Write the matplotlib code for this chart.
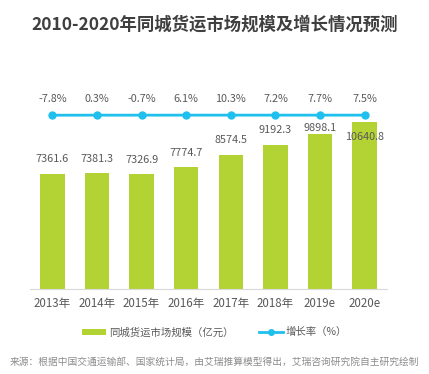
import matplotlib
matplotlib.use('Agg')
import matplotlib.pyplot as plt

plt.rcParams['font.family'] = ['Noto Sans CJK SC', 'DejaVu Sans']

years = ['2013年', '2014年', '2015年', '2016年', '2017年', '2018年', '2019e', '2020e']
market = [7361.6, 7381.3, 7326.9, 7774.7, 8574.5, 9192.3, 9898.1, 10640.8]
growth = [-7.8, 0.3, -0.7, 6.1, 10.3, 7.2, 7.7, 7.5]

BAR_COLOR = '#b3d335'
LINE_COLOR = '#1fc0ee'
TEXT_COLOR = '#595959'

fig = plt.figure(figsize=(4.29, 3.74), dpi=100)
ax = fig.add_axes([0.07, 0.227, 0.832, 0.612])

x = range(len(years))
bars = ax.bar(x, market, width=0.55, color=BAR_COLOR, label='同城货运市场规模（亿元）')
ax.set_xlim(-0.5, 7.5)
ax.set_ylim(0, 14590)

# label offsets in points; the last two are nudged to dodge the line
label_offsets = [10.5, 10.5, 10.5, 10.5, 10.5, 10.5, 4, -10.5]
for i, v in enumerate(market):
    ax.annotate(f'{v:.1f}', (i, v), xytext=(0, label_offsets[i]),
                textcoords='offset points', ha='center', va='center',
                fontsize=7.8, color=TEXT_COLOR)

ax.set_xticks(list(x))
ax.set_xticklabels(years, fontsize=8.3, color=TEXT_COLOR)
ax.tick_params(axis='x', length=0, pad=6)
ax.set_yticks([])
for side in ('top', 'right', 'left'):
    ax.spines[side].set_visible(False)
ax.spines['bottom'].set_color('#d9d9d9')

# growth rate on a hidden axis with a very wide range, so the line looks flat
ax2 = ax.twinx()
ax2.set_ylim(-45595, 14405)
line, = ax2.plot(list(x), growth, color=LINE_COLOR, linewidth=2,
                 marker='o', markersize=5, label='增长率（%）')
for i, g in enumerate(growth):
    ax2.annotate(f'{g:.1f}%', (i, g), xytext=(0, 11.5),
                 textcoords='offset points', ha='center', va='center',
                 fontsize=7.8, color=TEXT_COLOR)
ax2.set_yticks([])
for side in ('top', 'right', 'left', 'bottom'):
    ax2.spines[side].set_visible(False)

fig.text(0.5, 0.933, '2010-2020年同城货运市场规模及增长情况预测',
         ha='center', va='center', fontsize=12.5, fontweight='bold',
         color='#3f3f3f')

leg = fig.legend([bars, line], ['同城货运市场规模（亿元）', '增长率（%）'],
                 loc='center', bbox_to_anchor=(0.5, 0.112), ncol=2,
                 frameon=False, fontsize=7.5, handlelength=2.3,
                 handleheight=0.5, handletextpad=0.3, columnspacing=2.4,
                 markerscale=0.8)
for t in leg.get_texts():
    t.set_color(TEXT_COLOR)

fig.text(0.5, 0.032, '来源：根据中国交通运输部、国家统计局，由艾瑞推算模型得出，艾瑞咨询研究院自主研究绘制',
         ha='center', va='center', fontsize=7, color='#8c8c8c')

fig.savefig('out.png', dpi=100)
